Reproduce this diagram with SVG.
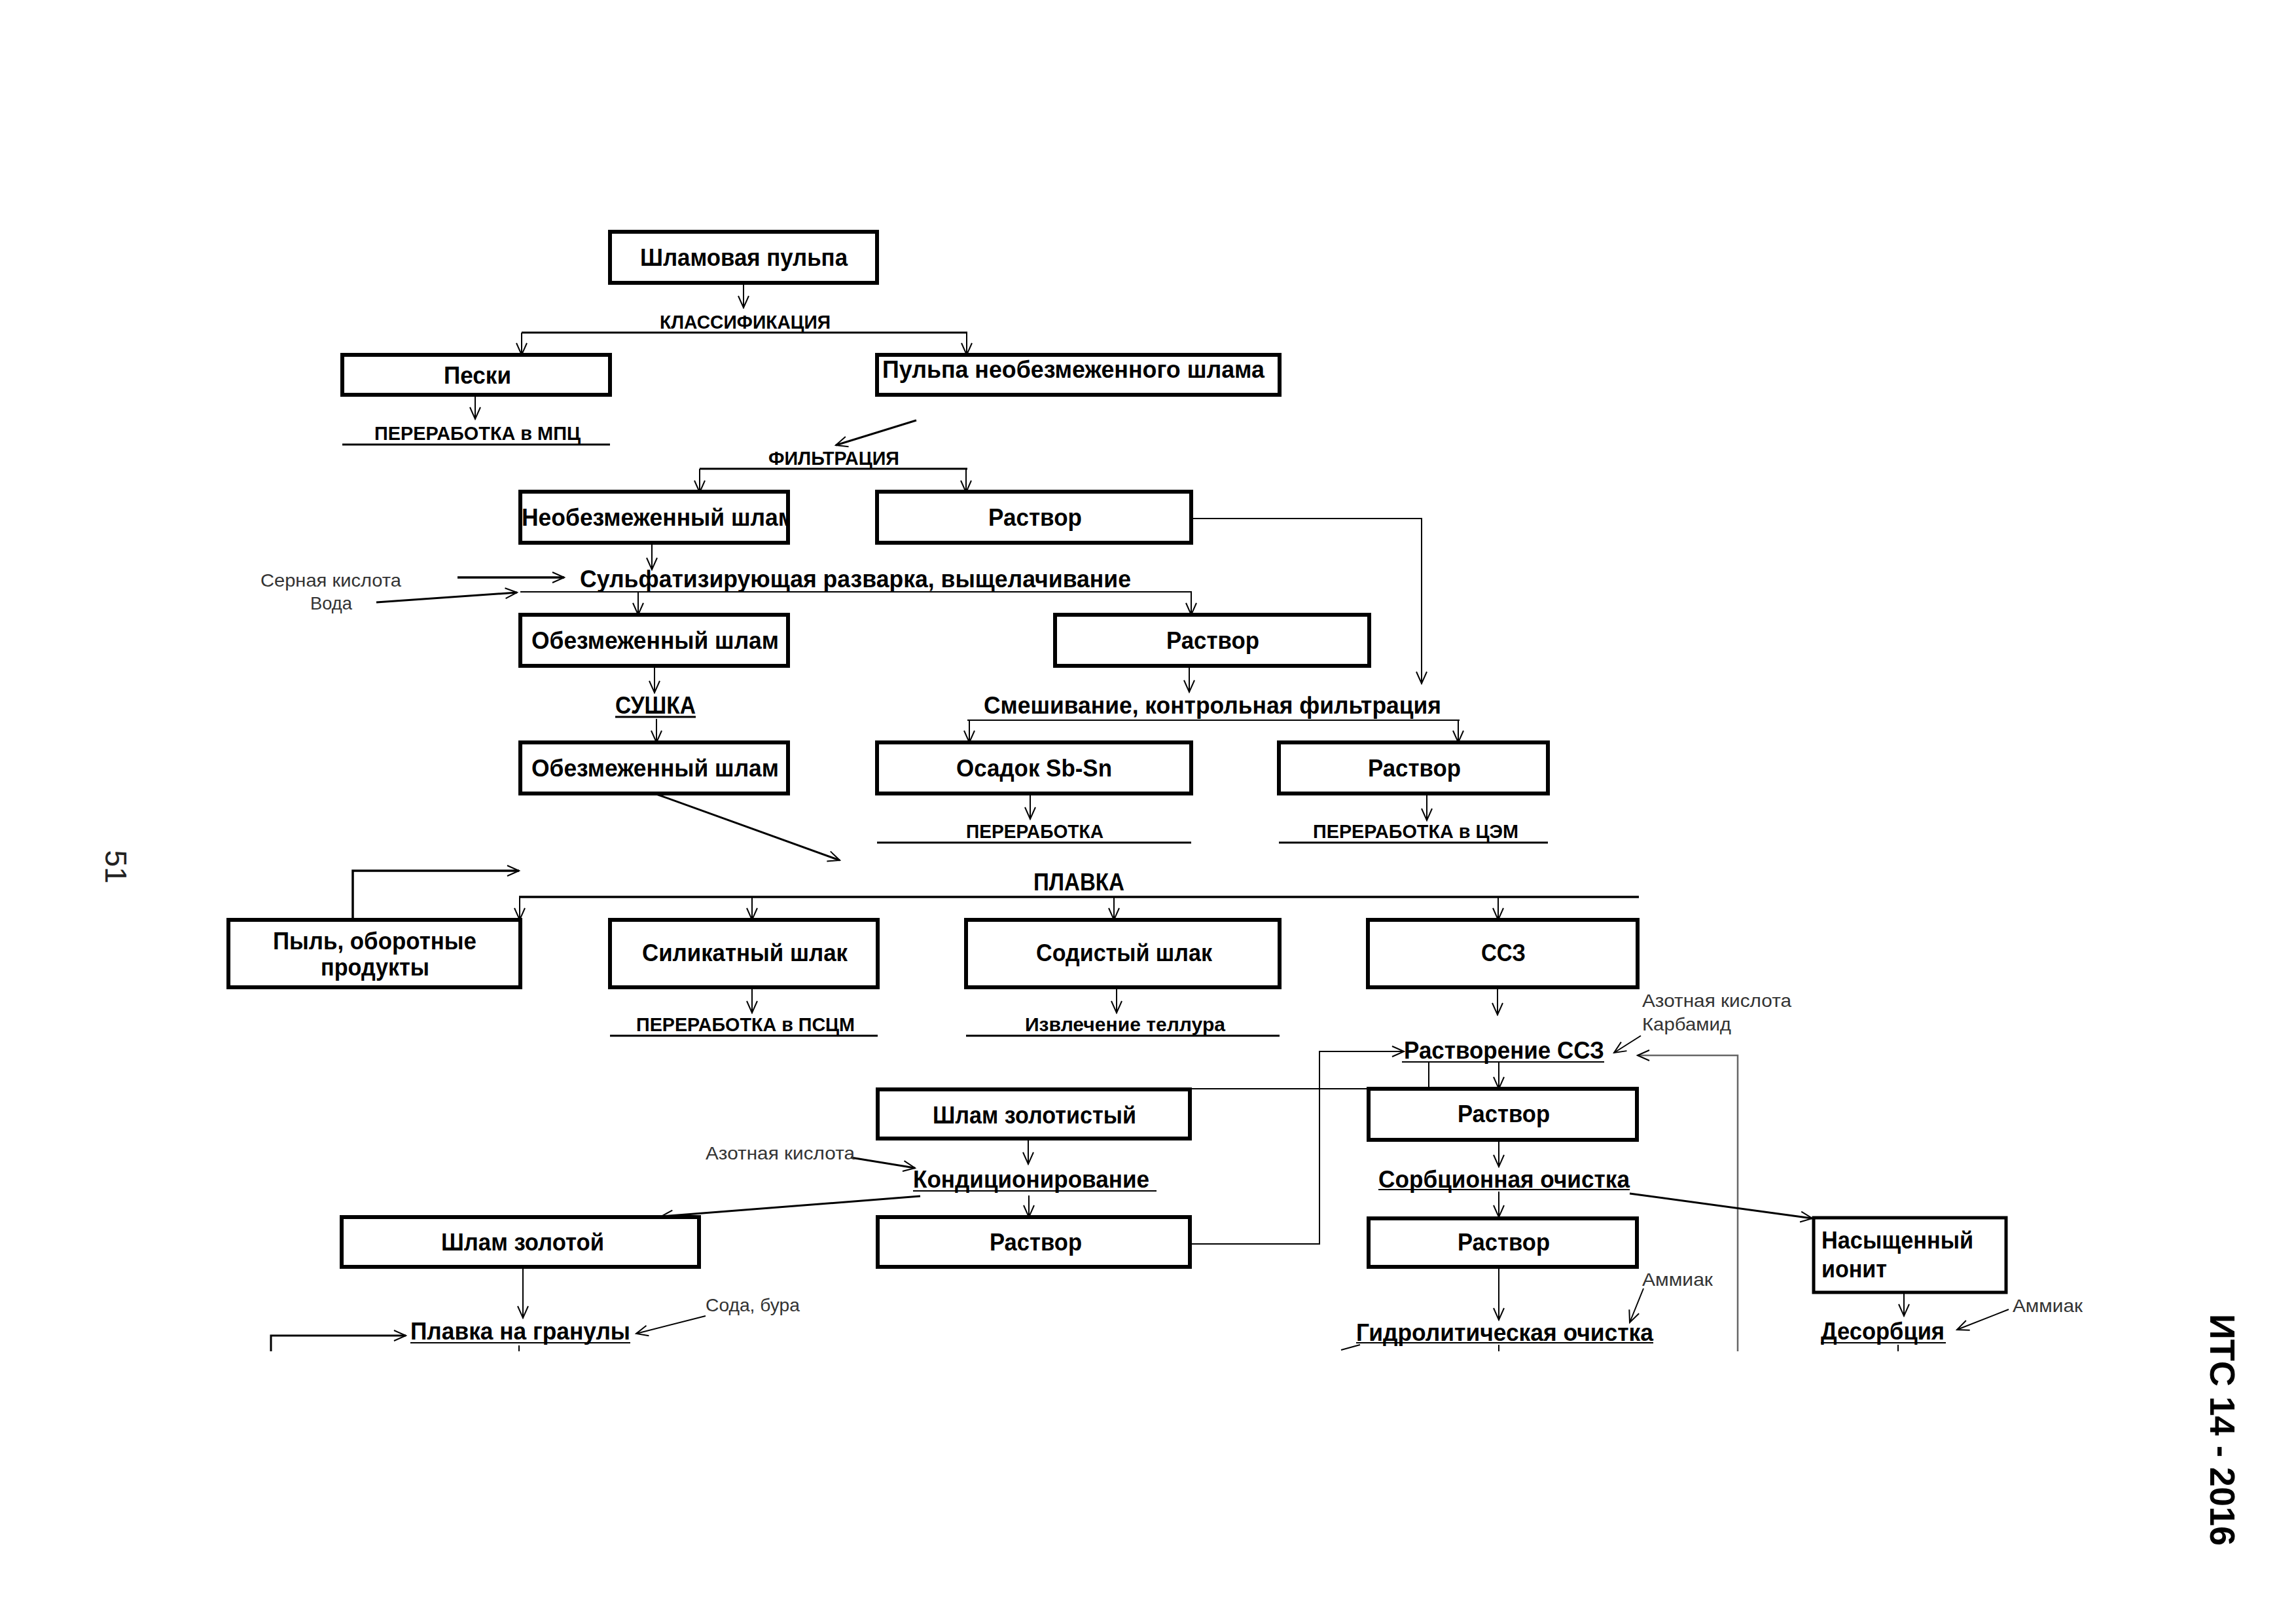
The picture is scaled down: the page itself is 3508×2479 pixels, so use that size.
<svg xmlns="http://www.w3.org/2000/svg" width="3508" height="2479" viewBox="0 0 3508 2479">
<style>
.bx{fill:#fff;stroke:#000;stroke-width:6}
.t{font-family:"Liberation Sans",Arial,sans-serif;font-weight:bold;font-size:36px;fill:#000}
.s{font-family:"Liberation Sans",Arial,sans-serif;font-weight:bold;font-size:29px;fill:#000}
.r{font-family:"Liberation Sans",Arial,sans-serif;font-weight:normal;font-size:28px;fill:#333}
.c{fill:none;stroke:#000;stroke-width:2}
.k{fill:none;stroke:#000;stroke-width:3.5}
.u{fill:none;stroke:#000;stroke-width:3}
.g{fill:none;stroke:#666;stroke-width:2.5}
</style>
<defs>
<marker id="a" markerUnits="userSpaceOnUse" viewBox="-20 -10 22 20" markerWidth="22" markerHeight="20" refX="0" refY="0" orient="auto">
<path d="M-18,-8 L0,0 L-18,8" fill="none" stroke="#000" stroke-width="2"/>
</marker>
<clipPath id="cl1"><rect x="795" y="751" width="409" height="78"/></clipPath>
</defs>
<rect width="3508" height="2479" fill="#fff"/>

<g id="connectors">
<path class="c" d="M1136,432 V470" marker-end="url(#a)"/>
<path class="u" d="M797,508 H1478"/>
<path class="c" d="M797,508 V542" marker-end="url(#a)"/>
<path class="c" d="M1477,508 V542" marker-end="url(#a)"/>
<path class="c" d="M726,603 V640" marker-end="url(#a)"/>
<path class="u" d="M523,679 H932"/>
<path class="u" d="M1400,642 L1277,680" marker-end="url(#a)"/>
<path class="u" d="M1069,716 H1478"/>
<path class="c" d="M1069,716 V752" marker-end="url(#a)"/>
<path class="c" d="M1476,716 V752" marker-end="url(#a)"/>
<path class="c" d="M996,829 V870" marker-end="url(#a)"/>
<path class="k" d="M699,882 H862" marker-end="url(#a)"/>
<path class="u" d="M575,920 L790,905" marker-end="url(#a)"/>
<path class="c" d="M795,904 H1820 V939" marker-end="url(#a)"/>
<path class="c" d="M975,904 V939" marker-end="url(#a)"/>
<path class="c" d="M1820,792 H2172 V1044" marker-end="url(#a)"/>
<path class="c" d="M1000,1017 V1058" marker-end="url(#a)"/>
<path class="u" d="M940,1095 H1063"/>
<path class="c" d="M1003,1098 V1134" marker-end="url(#a)"/>
<path class="u" d="M1000,1212 L1283,1314" marker-end="url(#a)"/>
<path class="c" d="M1817,1017 V1057" marker-end="url(#a)"/>
<path class="c" d="M1478,1100 H2230"/>
<path class="c" d="M1481,1100 V1134" marker-end="url(#a)"/>
<path class="c" d="M2228,1100 V1134" marker-end="url(#a)"/>
<path class="c" d="M1574,1212 V1251" marker-end="url(#a)"/>
<path class="u" d="M1340,1287 H1820"/>
<path class="c" d="M2180,1212 V1253" marker-end="url(#a)"/>
<path class="u" d="M1954,1287 H2365"/>
<path class="k" d="M793,1370 H2504"/>
<path class="c" d="M794,1370 V1405" marker-end="url(#a)"/>
<path class="c" d="M1149,1370 V1405" marker-end="url(#a)"/>
<path class="c" d="M1702,1370 V1405" marker-end="url(#a)"/>
<path class="c" d="M2289,1370 V1405" marker-end="url(#a)"/>
<path class="k" d="M539,1405 V1330 H793" marker-end="url(#a)"/>
<path class="c" d="M1149,1508 V1547" marker-end="url(#a)"/>
<path class="u" d="M932,1582 H1341"/>
<path class="c" d="M1706,1482 V1547" marker-end="url(#a)"/>
<path class="u" d="M1476,1582 H1955"/>
<path class="c" d="M2288,1508 V1550" marker-end="url(#a)"/>
<path class="c" d="M2507,1582 L2466,1608" marker-end="url(#a)"/>
<path class="c" d="M2142,1622 H2451"/>
<path class="g" d="M2655,2064 V1612 H2502" marker-end="url(#a)"/>
<path class="c" d="M1819,1900 H2016 V1606 H2145" marker-end="url(#a)"/>
<path class="c" d="M2290,1622 V1663" marker-end="url(#a)"/>
<path class="c" d="M2183,1622 V1663"/>
<path class="c" d="M1819,1663 H2091"/>
<path class="c" d="M1571,1739 V1778" marker-end="url(#a)"/>
<path class="u" d="M1300,1768 L1398,1784" marker-end="url(#a)"/>
<path class="c" d="M1395,1819 H1767"/>
<path class="c" d="M1572,1826 V1859" marker-end="url(#a)"/>
<path class="u" d="M1406,1827 L1010,1858" marker-end="url(#a)"/>
<path class="c" d="M799,1935 V2013" marker-end="url(#a)"/>
<path class="u" d="M414,2064 V2040 H620" marker-end="url(#a)"/>
<path class="c" d="M1078,2010 L972,2037" marker-end="url(#a)"/>
<path class="c" d="M627,2051 H963"/>
<path class="c" d="M793,2055 V2064"/>
<path class="c" d="M2290,1741 V1782" marker-end="url(#a)"/>
<path class="c" d="M2106,1817 H2490"/>
<path class="c" d="M2290,1820 V1859" marker-end="url(#a)"/>
<path class="u" d="M2490,1823 L2769,1861" marker-end="url(#a)"/>
<path class="c" d="M2290,1935 V2016" marker-end="url(#a)"/>
<path class="c" d="M2511,1968 L2490,2020" marker-end="url(#a)"/>
<path class="c" d="M2072,2051 H2526"/>
<path class="c" d="M2290,2054 V2064"/>
<path class="c" d="M2049,2062 L2078,2054"/>
<path class="c" d="M2909,1974 V2010" marker-end="url(#a)"/>
<path class="c" d="M2782,2051 H2973"/>
<path class="c" d="M3069,2000 L2990,2031" marker-end="url(#a)"/>
<path class="c" d="M2900,2054 V2064"/>
</g>

<g id="n-shlam-pulpa"><rect class="bx" x="932" y="354" width="408" height="78"/><text class="t" x="978" y="406" textLength="317" lengthAdjust="spacingAndGlyphs">Шламовая пульпа</text></g>
<g id="p-klass"><text class="s" x="1008" y="502" textLength="261" lengthAdjust="spacingAndGlyphs">КЛАССИФИКАЦИЯ</text></g>
<g id="n-peski"><rect class="bx" x="523" y="542" width="409" height="61"/><text class="t" x="678" y="586" textLength="103" lengthAdjust="spacingAndGlyphs">Пески</text></g>
<g id="p-mpc"><text class="s" x="572" y="672" textLength="315" lengthAdjust="spacingAndGlyphs">ПЕРЕРАБОТКА в МПЦ</text></g>
<g id="n-pulpa-neobezm"><rect class="bx" x="1340" y="542" width="615" height="61"/><text class="t" x="1348" y="577" textLength="584" lengthAdjust="spacingAndGlyphs">Пульпа необезмеженного шлама</text></g>
<g id="p-filtr"><text class="s" x="1174" y="710" textLength="200" lengthAdjust="spacingAndGlyphs">ФИЛЬТРАЦИЯ</text></g>
<g id="n-neobezm"><rect class="bx" x="795" y="751" width="409" height="78"/><text class="t" x="797" y="803" textLength="418" lengthAdjust="spacingAndGlyphs" clip-path="url(#cl1)">Необезмеженный шлам</text><rect x="795" y="751" width="409" height="78" fill="none" stroke="#000" stroke-width="6"/></g>
<g id="n-rastvor1"><rect class="bx" x="1340" y="751" width="480" height="78"/><text class="t" x="1510" y="803" textLength="143" lengthAdjust="spacingAndGlyphs">Раствор</text></g>
<g id="p-sulf"><text class="t" x="886" y="897" textLength="842" lengthAdjust="spacingAndGlyphs">Сульфатизирующая разварка, выщелачивание</text></g>
<g id="r-sulf"><text class="r" x="398" y="896" textLength="215" lengthAdjust="spacingAndGlyphs">Серная кислота</text><text class="r" x="474" y="931" textLength="64" lengthAdjust="spacingAndGlyphs">Вода</text></g>
<g id="n-obezm1"><rect class="bx" x="795" y="939" width="409" height="78"/><text class="t" x="812" y="991" textLength="378" lengthAdjust="spacingAndGlyphs">Обезмеженный шлам</text></g>
<g id="n-rastvor2"><rect class="bx" x="1612" y="939" width="480" height="78"/><text class="t" x="1782" y="991" textLength="142" lengthAdjust="spacingAndGlyphs">Раствор</text></g>
<g id="p-sushka"><text class="t" x="940" y="1090" font-size="34" textLength="123" lengthAdjust="spacingAndGlyphs">СУШКА</text></g>
<g id="p-smesh"><text class="t" x="1503" y="1090" textLength="699" lengthAdjust="spacingAndGlyphs">Смешивание, контрольная фильтрация</text></g>
<g id="n-obezm2"><rect class="bx" x="795" y="1134" width="409" height="78"/><text class="t" x="812" y="1186" textLength="378" lengthAdjust="spacingAndGlyphs">Обезмеженный шлам</text></g>
<g id="n-osadok"><rect class="bx" x="1340" y="1134" width="480" height="78"/><text class="t" x="1461" y="1186" textLength="238" lengthAdjust="spacingAndGlyphs">Осадок Sb-Sn</text></g>
<g id="n-rastvor3"><rect class="bx" x="1954" y="1134" width="411" height="78"/><text class="t" x="2090" y="1186" textLength="142" lengthAdjust="spacingAndGlyphs">Раствор</text></g>
<g id="p-pererab"><text class="s" x="1476" y="1280" textLength="210" lengthAdjust="spacingAndGlyphs">ПЕРЕРАБОТКА</text></g>
<g id="p-cem"><text class="s" x="2006" y="1280" textLength="314" lengthAdjust="spacingAndGlyphs">ПЕРЕРАБОТКА в ЦЭМ</text></g>
<g id="p-plavka"><text class="t" x="1579" y="1360" font-size="33" textLength="139" lengthAdjust="spacingAndGlyphs">ПЛАВКА</text></g>
<g id="n-pyl"><rect class="bx" x="349" y="1405" width="446" height="103"/><text class="t" x="417" y="1450" textLength="311" lengthAdjust="spacingAndGlyphs">Пыль, оборотные</text><text class="t" x="490" y="1490" textLength="166" lengthAdjust="spacingAndGlyphs">продукты</text></g>
<g id="n-silikat"><rect class="bx" x="932" y="1405" width="409" height="103"/><text class="t" x="981" y="1468" textLength="314" lengthAdjust="spacingAndGlyphs">Силикатный шлак</text></g>
<g id="n-sodist"><rect class="bx" x="1476" y="1405" width="479" height="103"/><text class="t" x="1583" y="1468" textLength="269" lengthAdjust="spacingAndGlyphs">Содистый шлак</text></g>
<g id="n-ssz"><rect class="bx" x="2090" y="1405" width="412" height="103"/><text class="t" x="2263" y="1468" textLength="68" lengthAdjust="spacingAndGlyphs">ССЗ</text></g>
<g id="p-pscm"><text class="s" x="972" y="1575" textLength="334" lengthAdjust="spacingAndGlyphs">ПЕРЕРАБОТКА в ПСЦМ</text></g>
<g id="p-tellur"><text class="s" x="1566" y="1575" textLength="306" lengthAdjust="spacingAndGlyphs">Извлечение теллура</text></g>
<g id="r-rastvorenie"><text class="r" x="2509" y="1538" textLength="228" lengthAdjust="spacingAndGlyphs">Азотная кислота</text><text class="r" x="2509" y="1574" textLength="136" lengthAdjust="spacingAndGlyphs">Карбамид</text></g>
<g id="p-rastvorenie"><text class="t" x="2145" y="1617" textLength="306" lengthAdjust="spacingAndGlyphs">Растворение ССЗ</text></g>
<g id="n-zolotist"><rect class="bx" x="1341" y="1664" width="477" height="75"/><text class="t" x="1425" y="1716" textLength="311" lengthAdjust="spacingAndGlyphs">Шлам золотистый</text></g>
<g id="n-rastvor4"><rect class="bx" x="2091" y="1663" width="410" height="78"/><text class="t" x="2227" y="1714" textLength="141" lengthAdjust="spacingAndGlyphs">Раствор</text></g>
<g id="r-kond"><text class="r" x="1078" y="1771" textLength="228" lengthAdjust="spacingAndGlyphs">Азотная кислота</text></g>
<g id="p-kond"><text class="t" x="1395" y="1814" textLength="361" lengthAdjust="spacingAndGlyphs">Кондиционирование</text></g>
<g id="p-sorb"><text class="t" x="2106" y="1814" textLength="384" lengthAdjust="spacingAndGlyphs">Сорбционная очистка</text></g>
<g id="n-zoloto"><rect class="bx" x="522" y="1859" width="546" height="76"/><text class="t" x="674" y="1910" textLength="249" lengthAdjust="spacingAndGlyphs">Шлам золотой</text></g>
<g id="n-rastvor5"><rect class="bx" x="1341" y="1859" width="477" height="76"/><text class="t" x="1512" y="1910" textLength="141" lengthAdjust="spacingAndGlyphs">Раствор</text></g>
<g id="n-rastvor6"><rect class="bx" x="2091" y="1861" width="410" height="74"/><text class="t" x="2227" y="1910" textLength="141" lengthAdjust="spacingAndGlyphs">Раствор</text></g>
<g id="n-ionit"><rect class="bx" x="2771" y="1860" width="294" height="114" style="stroke-width:5"/><text class="t" x="2783" y="1907" font-size="34" textLength="232" lengthAdjust="spacingAndGlyphs">Насыщенный</text><text class="t" x="2783" y="1951" font-size="34" textLength="100" lengthAdjust="spacingAndGlyphs">ионит</text></g>
<g id="r-soda"><text class="r" x="1078" y="2003" textLength="144" lengthAdjust="spacingAndGlyphs">Сода, бура</text></g>
<g id="p-granuly"><text class="t" x="627" y="2046" textLength="336" lengthAdjust="spacingAndGlyphs">Плавка на гранулы</text></g>
<g id="r-ammiak1"><text class="r" x="2509" y="1964" textLength="108" lengthAdjust="spacingAndGlyphs">Аммиак</text></g>
<g id="p-gidrolit"><text class="t" x="2072" y="2048" textLength="454" lengthAdjust="spacingAndGlyphs">Гидролитическая очистка</text></g>
<g id="p-desorb"><text class="t" x="2782" y="2046" textLength="189" lengthAdjust="spacingAndGlyphs">Десорбция</text></g>
<g id="r-ammiak2"><text class="r" x="3075" y="2004" fill="#555" textLength="107" lengthAdjust="spacingAndGlyphs">Аммиак</text></g>

<g id="page-number"><text transform="translate(177,1324) rotate(90)" x="0" y="16" text-anchor="middle" style="font-family:'Liberation Sans',Arial,sans-serif;font-size:46px;fill:#222">51</text></g>
<g id="doc-code"><text transform="translate(3396,2184) rotate(90)" x="0" y="19" text-anchor="middle" style="font-family:'Liberation Sans',Arial,sans-serif;font-size:54px;font-weight:bold;fill:#000">ИТС 14 - 2016</text></g>
</svg>
